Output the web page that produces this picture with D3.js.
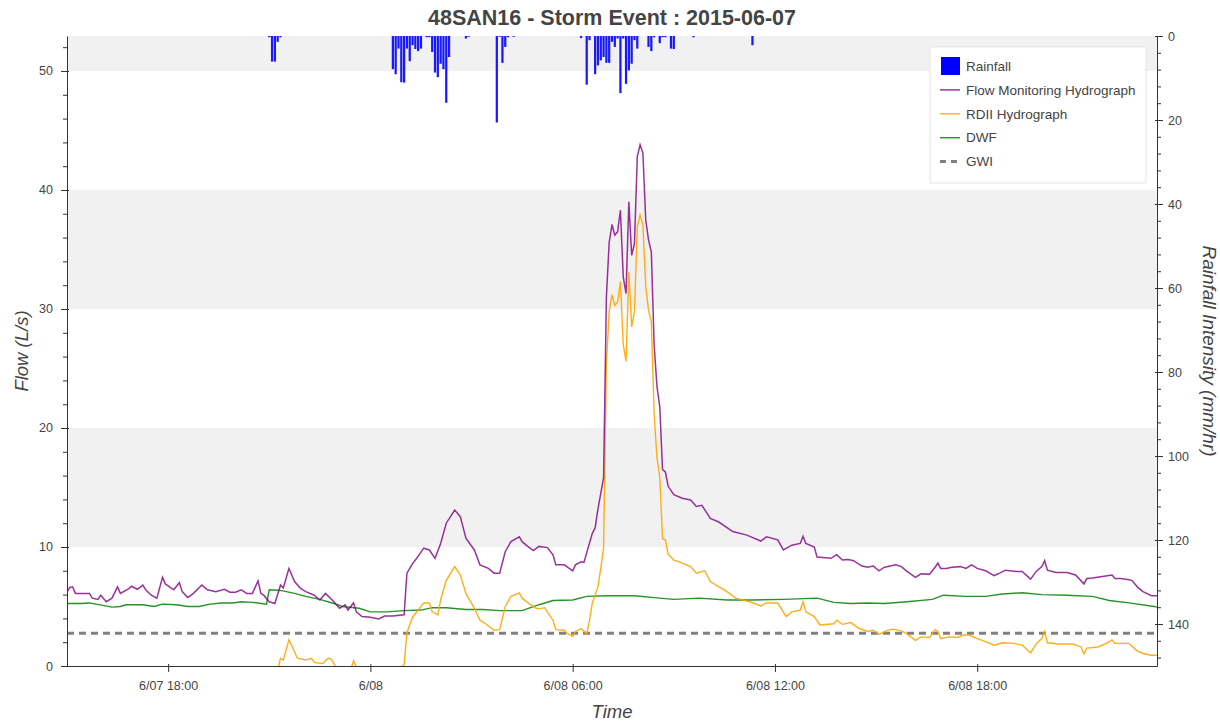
<!DOCTYPE html>
<html>
<head>
<meta charset="utf-8">
<script src="https://cdn.jsdelivr.net/npm/d3@7"></script>
<style>
  body { margin: 0; background: #fff; }
  svg { font-family: "Liberation Sans", Arial, Helvetica, sans-serif; }
</style>
</head>
<body>
<script>
// Values. Times are "DD HH:MM" in June 2015.
const timeRange = ["07 15:00", "08 23:20"];
const timeTicks = ["07 18:00", "08 00:00", "08 06:00", "08 12:00", "08 18:00"];
const timeTickLabels = ["6/07 18:00", "6/08", "6/08 06:00", "6/08 12:00", "6/08 18:00"];
const flowTicks = [0, 10, 20, 30, 40, 50];
const rainTicks = [0, 20, 40, 60, 80, 100, 120, 140];
const legendLabels = ["Rainfall", "Flow Monitoring Hydrograph", "RDII Hydrograph", "DWF", "GWI"];
const gwiLevel = 2.75;

// rainfall intensity, mm/hr (5 minute bars)
const rainfall = [
  ["07 21:00", 0.3], ["07 21:05", 6.1], ["07 21:10", 6.1], ["07 21:15", 1.4], ["07 21:20", 0.3],
  ["08 00:40", 7.9], ["08 00:45", 9.1], ["08 00:50", 3.0], ["08 00:55", 11.0], ["08 01:00", 11.1],
  ["08 01:05", 3.0], ["08 01:10", 6.0], ["08 01:15", 2.2], ["08 01:20", 3.1], ["08 01:25", 3.6],
  ["08 01:30", 3.0], ["08 01:40", 0.3], ["08 01:45", 0.3], ["08 01:50", 3.8], ["08 01:55", 8.7],
  ["08 02:00", 9.8], ["08 02:05", 6.6], ["08 02:10", 7.9], ["08 02:15", 15.9], ["08 02:20", 5.0],
  ["08 02:50", 0.6], ["08 02:55", 0.2], ["08 03:45", 20.6], ["08 03:50", 0.2], ["08 03:55", 6.4],
  ["08 04:00", 2.6], ["08 04:05", 0.3], ["08 04:15", 0.2],
  ["08 06:15", 0.5], ["08 06:25", 11.6], ["08 06:30", 1.0], ["08 06:40", 9.1], ["08 06:45", 7.0],
  ["08 06:50", 5.8], ["08 06:55", 5.0], ["08 07:00", 6.4], ["08 07:05", 6.4], ["08 07:10", 1.4],
  ["08 07:15", 2.6], ["08 07:20", 0.6], ["08 07:25", 13.6], ["08 07:30", 0.6], ["08 07:35", 11.4],
  ["08 07:40", 8.2], ["08 07:45", 6.6], ["08 07:50", 1.0], ["08 07:55", 3.0], ["08 08:15", 2.6],
  ["08 08:20", 3.6], ["08 08:25", 0.3], ["08 08:35", 1.7], ["08 08:40", 0.3], ["08 08:45", 0.3],
  ["08 08:55", 3.0], ["08 09:00", 3.1], ["08 09:35", 0.3], ["08 11:20", 2.2]
];

// observed flow, L/s
const flowMonitoring = [
  ["07 15:00", 6.2], ["07 15:05", 6.6], ["07 15:10", 6.65], ["07 15:15", 6.1], ["07 15:40", 6.1],
  ["07 15:45", 5.7], ["07 15:55", 5.6], ["07 16:00", 5.95], ["07 16:10", 5.4], ["07 16:20", 5.7],
  ["07 16:30", 6.65], ["07 16:35", 6.1], ["07 16:50", 6.5], ["07 16:55", 6.7], ["07 17:05", 6.45],
  ["07 17:15", 6.8], ["07 17:20", 6.4], ["07 17:30", 5.95], ["07 17:40", 5.7], ["07 17:50", 7.45],
  ["07 17:55", 6.9], ["07 18:10", 6.4], ["07 18:20", 7.0], ["07 18:25", 6.25], ["07 18:35", 5.75],
  ["07 18:45", 6.1], ["07 19:00", 6.8], ["07 19:10", 6.4], ["07 19:25", 6.25], ["07 19:40", 6.45],
  ["07 19:50", 6.2], ["07 20:00", 6.2], ["07 20:10", 6.4], ["07 20:20", 6.1], ["07 20:30", 6.1],
  ["07 20:40", 7.15], ["07 20:45", 6.1], ["07 20:50", 5.95], ["07 21:00", 5.4], ["07 21:10", 5.25],
  ["07 21:20", 6.8], ["07 21:25", 6.55], ["07 21:35", 8.2], ["07 21:45", 7.1], ["07 21:55", 6.55],
  ["07 22:05", 6.25], ["07 22:20", 5.95], ["07 22:30", 5.55], ["07 22:40", 6.1], ["07 22:55", 5.4],
  ["07 23:05", 4.85], ["07 23:15", 5.15], ["07 23:20", 4.7], ["07 23:30", 5.3], ["07 23:35", 4.55],
  ["07 23:45", 4.15], ["08 00:00", 4.1], ["08 00:15", 3.95], ["08 00:25", 4.2], ["08 00:40", 4.2],
  ["08 01:00", 4.3], ["08 01:05", 7.8], ["08 01:15", 8.6], ["08 01:20", 8.9], ["08 01:35", 9.9],
  ["08 01:45", 9.75], ["08 01:55", 9.05], ["08 02:05", 10.3], ["08 02:15", 12.0], ["08 02:30", 13.1],
  ["08 02:40", 12.55], ["08 02:50", 10.75], ["08 03:05", 9.75], ["08 03:15", 8.5], ["08 03:30", 8.2],
  ["08 03:40", 7.8], ["08 03:50", 7.8], ["08 04:00", 9.6], ["08 04:10", 10.45], ["08 04:25", 10.85],
  ["08 04:30", 10.45], ["08 04:40", 10.05], ["08 04:50", 9.7], ["08 05:00", 10.05], ["08 05:15", 9.95],
  ["08 05:25", 9.35], ["08 05:30", 8.5], ["08 05:45", 8.5], ["08 06:00", 8.0], ["08 06:05", 8.5],
  ["08 06:15", 8.75], ["08 06:20", 8.7], ["08 06:35", 11.15], ["08 06:40", 11.6], ["08 06:45", 13.2],
  ["08 06:50", 14.5], ["08 06:55", 15.8], ["08 07:00", 31.0], ["08 07:05", 35.6], ["08 07:10", 37.1],
  ["08 07:15", 36.2], ["08 07:20", 36.5], ["08 07:25", 38.3], ["08 07:30", 32.7], ["08 07:35", 31.3],
  ["08 07:40", 39.0], ["08 07:45", 34.5], ["08 07:50", 35.5], ["08 07:55", 42.8], ["08 08:00", 43.8],
  ["08 08:05", 43.1], ["08 08:10", 37.5], ["08 08:15", 35.8], ["08 08:20", 34.8], ["08 08:25", 27.0],
  ["08 08:30", 23.5], ["08 08:35", 21.8], ["08 08:40", 16.5], ["08 08:45", 16.3], ["08 08:50", 15.1],
  ["08 09:00", 14.4], ["08 09:15", 14.1], ["08 09:30", 13.95], ["08 09:40", 13.4], ["08 09:50", 13.5],
  ["08 10:05", 12.4], ["08 10:20", 12.1], ["08 10:45", 11.3], ["08 11:10", 11.0], ["08 11:35", 10.5],
  ["08 11:45", 10.85], ["08 12:05", 10.6], ["08 12:15", 9.75], ["08 12:30", 10.15], ["08 12:45", 10.3],
  ["08 12:50", 10.9], ["08 12:55", 10.3], ["08 13:10", 10.0], ["08 13:15", 9.15], ["08 13:40", 9.05],
  ["08 13:50", 9.35], ["08 14:00", 8.9], ["08 14:10", 8.95], ["08 14:20", 8.85], ["08 14:35", 8.4],
  ["08 14:45", 8.3], ["08 14:55", 8.4], ["08 15:05", 8.0], ["08 15:15", 8.3], ["08 15:35", 8.5],
  ["08 15:45", 8.35], ["08 15:55", 7.95], ["08 16:10", 7.45], ["08 16:20", 7.75], ["08 16:35", 7.7],
  ["08 16:45", 8.3], ["08 16:50", 8.65], ["08 16:55", 8.2], ["08 17:05", 8.2], ["08 17:15", 8.3],
  ["08 17:30", 8.35], ["08 17:40", 8.2], ["08 17:50", 8.5], ["08 18:00", 8.2], ["08 18:15", 8.0],
  ["08 18:30", 7.6], ["08 18:40", 7.8], ["08 18:50", 8.05], ["08 19:10", 7.95], ["08 19:20", 7.95],
  ["08 19:35", 7.3], ["08 19:45", 7.95], ["08 19:55", 8.35], ["08 20:00", 8.85], ["08 20:05", 8.05],
  ["08 20:20", 7.85], ["08 20:40", 7.85], ["08 20:55", 7.65], ["08 21:10", 6.9], ["08 21:15", 7.35],
  ["08 21:25", 7.4], ["08 21:40", 7.5], ["08 22:00", 7.65], ["08 22:05", 7.35], ["08 22:15", 7.35],
  ["08 22:30", 7.25], ["08 22:35", 7.2], ["08 22:45", 6.65], ["08 22:55", 6.25], ["08 23:10", 5.9],
  ["08 23:20", 5.9]
];

// rainfall derived inflow/infiltration, L/s (goes below zero at times, clipped by the frame)
const rdii = [
  ["07 21:10", -1.1], ["07 21:15", -0.3], ["07 21:20", 0.65], ["07 21:25", 0.5], ["07 21:35", 2.2],
  ["07 21:45", 1.2], ["07 21:50", 0.65], ["07 22:05", 0.5], ["07 22:15", 0.65], ["07 22:20", 0.3],
  ["07 22:35", 0.2], ["07 22:45", 0.65], ["07 22:50", 0.6], ["07 23:00", -0.2], ["07 23:25", -0.3],
  ["07 23:30", 0.45], ["07 23:35", -0.1], ["07 23:45", -0.5], ["08 00:00", -0.5], ["08 00:15", -0.65],
  ["08 00:40", -0.45], ["08 01:00", 0.1], ["08 01:05", 2.8], ["08 01:15", 4.1], ["08 01:25", 4.7],
  ["08 01:35", 5.3], ["08 01:45", 5.3], ["08 01:50", 4.55], ["08 02:00", 4.3], ["08 02:05", 5.55],
  ["08 02:15", 7.2], ["08 02:30", 8.35], ["08 02:40", 7.65], ["08 02:50", 6.1], ["08 03:05", 4.85],
  ["08 03:15", 3.85], ["08 03:25", 3.55], ["08 03:40", 3.0], ["08 03:50", 3.05], ["08 04:00", 5.0],
  ["08 04:10", 5.85], ["08 04:25", 6.15], ["08 04:30", 5.7], ["08 04:45", 5.15], ["08 04:55", 4.85],
  ["08 05:00", 4.8], ["08 05:10", 4.9], ["08 05:25", 3.85], ["08 05:30", 3.05], ["08 05:45", 3.0],
  ["08 05:50", 2.75], ["08 06:00", 2.5], ["08 06:05", 2.9], ["08 06:15", 3.15], ["08 06:25", 2.7],
  ["08 06:30", 3.85], ["08 06:35", 5.3], ["08 06:45", 6.65], ["08 06:50", 8.2], ["08 06:55", 9.9],
  ["08 07:00", 25.4], ["08 07:05", 29.8], ["08 07:10", 31.2], ["08 07:15", 30.3], ["08 07:20", 30.6],
  ["08 07:25", 32.3], ["08 07:30", 27.0], ["08 07:35", 25.6], ["08 07:40", 33.1], ["08 07:45", 28.5],
  ["08 07:50", 29.8], ["08 07:55", 36.9], ["08 08:00", 37.9], ["08 08:05", 37.1], ["08 08:10", 31.9],
  ["08 08:15", 29.9], ["08 08:20", 28.9], ["08 08:25", 21.2], ["08 08:30", 17.5], ["08 08:35", 15.9],
  ["08 08:40", 10.7], ["08 08:45", 10.6], ["08 08:50", 9.4], ["08 09:00", 8.9], ["08 09:10", 8.75],
  ["08 09:15", 8.65], ["08 09:30", 8.35], ["08 09:40", 7.8], ["08 09:55", 8.0], ["08 10:05", 7.1],
  ["08 10:20", 6.65], ["08 10:30", 6.4], ["08 10:50", 5.7], ["08 11:15", 5.4], ["08 11:35", 5.05],
  ["08 11:45", 5.3], ["08 12:05", 5.3], ["08 12:20", 4.15], ["08 12:30", 4.55], ["08 12:45", 4.7],
  ["08 12:50", 5.4], ["08 12:55", 4.55], ["08 13:10", 4.15], ["08 13:20", 3.45], ["08 13:45", 3.55],
  ["08 13:50", 3.85], ["08 14:00", 3.5], ["08 14:15", 3.65], ["08 14:30", 3.15], ["08 14:45", 2.9],
  ["08 14:55", 3.0], ["08 15:05", 2.65], ["08 15:20", 3.0], ["08 15:30", 3.1], ["08 15:45", 2.95],
  ["08 15:55", 2.7], ["08 16:10", 2.15], ["08 16:20", 2.45], ["08 16:35", 2.4], ["08 16:45", 3.05],
  ["08 16:50", 2.9], ["08 16:55", 2.3], ["08 17:10", 2.45], ["08 17:25", 2.4], ["08 17:35", 2.6],
  ["08 17:45", 2.6], ["08 18:00", 2.3], ["08 18:15", 2.05], ["08 18:30", 1.75], ["08 18:45", 1.95],
  ["08 19:05", 1.9], ["08 19:20", 1.75], ["08 19:35", 1.1], ["08 19:45", 1.85], ["08 19:55", 2.3],
  ["08 20:00", 2.9], ["08 20:05", 1.95], ["08 20:25", 1.85], ["08 20:50", 1.85], ["08 21:05", 1.6],
  ["08 21:10", 1.0], ["08 21:15", 1.5], ["08 21:35", 1.6], ["08 21:50", 1.9], ["08 22:00", 2.2],
  ["08 22:05", 1.9], ["08 22:30", 1.9], ["08 22:45", 1.25], ["08 22:55", 1.05], ["08 23:10", 0.9],
  ["08 23:20", 0.9]
];

// dry weather flow, L/s
const dwf = [
  ["07 15:00", 5.25], ["07 15:25", 5.25], ["07 15:40", 5.3], ["07 16:20", 4.95], ["07 16:35", 5.0],
  ["07 16:45", 5.15], ["07 17:15", 5.15], ["07 17:35", 5.0], ["07 17:50", 5.2], ["07 18:15", 5.15],
  ["07 18:35", 5.0], ["07 18:55", 5.0], ["07 19:15", 5.2], ["07 19:35", 5.3], ["07 19:55", 5.3],
  ["07 20:10", 5.4], ["07 20:30", 5.35], ["07 20:55", 5.2], ["07 21:00", 6.4], ["07 21:20", 6.35],
  ["07 21:45", 6.1], ["07 22:05", 5.85], ["07 22:30", 5.6], ["07 22:55", 5.25], ["07 23:10", 5.0],
  ["07 23:40", 4.85], ["08 00:00", 4.55], ["08 00:30", 4.55], ["08 01:00", 4.65], ["08 01:30", 4.7],
  ["08 01:50", 4.9], ["08 02:15", 4.9], ["08 02:50", 4.75], ["08 03:20", 4.75], ["08 03:50", 4.65],
  ["08 04:30", 4.65], ["08 05:00", 5.15], ["08 05:25", 5.5], ["08 06:00", 5.55], ["08 06:25", 5.85],
  ["08 07:00", 5.9], ["08 07:50", 5.9], ["08 08:25", 5.75], ["08 09:00", 5.6], ["08 09:45", 5.7],
  ["08 10:35", 5.55], ["08 11:20", 5.55], ["08 12:15", 5.6], ["08 13:15", 5.7], ["08 13:45", 5.35],
  ["08 14:15", 5.25], ["08 14:45", 5.3], ["08 15:15", 5.25], ["08 15:55", 5.4], ["08 16:40", 5.6],
  ["08 17:00", 5.95], ["08 17:40", 5.85], ["08 18:15", 5.85], ["08 18:45", 6.05], ["08 19:20", 6.15],
  ["08 19:55", 6.0], ["08 20:40", 5.95], ["08 21:25", 5.85], ["08 21:55", 5.5], ["08 22:30", 5.3],
  ["08 23:15", 5.0], ["08 23:20", 4.95]
];

const parseTime = s => d3.timeParse("%Y-%m-%d %H:%M")("2015-06-" + s);

// frame of the plot inside the 1220x723 canvas
const margin = { top: 36, right: 63, bottom: 57, left: 67 },
      width = 1220 - margin.left - margin.right,
      height = 723 - margin.top - margin.bottom;

const svg = d3.select("body").append("svg")
    .attr("width", 1220)
    .attr("height", 723);

const g = svg.append("g")
    .attr("transform", "translate(" + margin.left + "," + margin.top + ")");

// scales
const x = d3.scaleTime()
    .domain(timeRange.map(parseTime))
    .range([0, width]);

const y = d3.scaleLinear()
    .domain([0, 52.94])
    .range([height, 0]);

const yRain = d3.scaleLinear()
    .domain([0, 150])
    .range([0, height]);

// alternating grey bands on the flow grid
const bandStarts = flowTicks.filter((d, i) => i % 2 === 1);
g.selectAll(".band")
    .data(bandStarts)
    .enter().append("rect")
    .attr("class", "band")
    .attr("x", 0)
    .attr("width", width)
    .attr("y", d => y(Math.min(d + 10, y.domain()[1])))
    .attr("height", d => y(d) - y(Math.min(d + 10, y.domain()[1])))
    .style("fill", "#f1f1f1");

g.append("clipPath")
    .attr("id", "frame")
    .append("rect")
    .attr("width", width)
    .attr("height", height);

const plot = g.append("g").attr("clip-path", "url(#frame)");

// rainfall bars hang from the top
const barWidth = x(parseTime("08 00:04")) - x(parseTime("08 00:00"));
plot.selectAll(".rain")
    .data(rainfall)
    .enter().append("rect")
    .attr("class", "rain")
    .attr("x", d => x(parseTime(d[0])) - barWidth / 2)
    .attr("width", barWidth)
    .attr("y", yRain(0))
    .attr("height", d => yRain(d[1]) - yRain(0))
    .style("fill", "#0000ff")
    .style("opacity", 0.9);

const line = d3.line()
    .x(d => x(parseTime(d[0])))
    .y(d => y(d[1]));

// GWI
plot.append("path")
    .datum(timeRange.map(t => [t, gwiLevel]))
    .attr("d", line)
    .style("fill", "none")
    .style("stroke", "#808080")
    .style("stroke-width", 3)
    .style("stroke-dasharray", "7,5");

plot.append("path")
    .datum(dwf)
    .attr("d", line)
    .style("fill", "none")
    .style("stroke", "#008000")
    .style("stroke-opacity", 0.85)
    .style("stroke-width", 1.4);

plot.append("path")
    .datum(rdii)
    .attr("d", line)
    .style("fill", "none")
    .style("stroke", "#ffa500")
    .style("stroke-opacity", 0.9)
    .style("stroke-width", 1.4);

plot.append("path")
    .datum(flowMonitoring)
    .attr("d", line)
    .style("fill", "none")
    .style("stroke", "#800080")
    .style("stroke-opacity", 0.8)
    .style("stroke-width", 1.5);

// axes
const axisColor = "#333";
const labelColor = "#444";

function styleAxis(sel, fontSize) {
    sel.select(".domain").style("stroke", axisColor);
    sel.selectAll(".tick line").style("stroke", axisColor);
    sel.selectAll(".tick text")
        .style("fill", labelColor)
        .style("font-size", fontSize)
        .style("font-family", "'Liberation Sans', Arial, sans-serif");
}

// minor ticks first, majors on top
const flowMinor = d3.range(0, 53, 2).filter(v => v % 10 !== 0);
g.append("g")
    .call(d3.axisLeft(y).tickValues(flowMinor).tickSize(4).tickFormat(""))
    .call(s => s.select(".domain").remove())
    .selectAll("line").style("stroke", axisColor);

const yAxis = g.append("g")
    .call(d3.axisLeft(y).tickValues(flowTicks).tickSize(6).tickSizeOuter(0).tickPadding(8));
yAxis.selectAll(".tick line").attr("x1", 2);
styleAxis(yAxis, "12.5px");

const rainMinor = d3.range(0, 151, 4).filter(v => v % 20 !== 0);
g.append("g")
    .attr("transform", "translate(" + width + ",0)")
    .call(d3.axisRight(yRain).tickValues(rainMinor).tickSize(4).tickFormat(""))
    .call(s => s.select(".domain").remove())
    .selectAll("line").style("stroke", axisColor);

const yRainAxis = g.append("g")
    .attr("transform", "translate(" + width + ",0)")
    .call(d3.axisRight(yRain).tickValues(rainTicks).tickSize(6).tickSizeOuter(0).tickPadding(5));
yRainAxis.selectAll(".tick line").attr("x1", -2);
styleAxis(yRainAxis, "12.5px");

const xAxis = g.append("g")
    .attr("transform", "translate(0," + height + ")")
    .call(d3.axisBottom(x)
        .tickValues(timeTicks.map(parseTime))
        .tickFormat((d, i) => timeTickLabels[i])
        .tickSize(6).tickSizeOuter(0).tickPadding(9));
xAxis.selectAll(".tick line").attr("y1", -2);
styleAxis(xAxis, "12.5px");

// title and axis labels
svg.append("text")
    .attr("x", margin.left + width / 2)
    .attr("y", 25)
    .style("text-anchor", "middle")
    .style("font-size", "21.5px")
    .style("font-weight", "bold")
    .style("fill", labelColor)
    .text("48SAN16 - Storm Event : 2015-06-07");

svg.append("text")
    .attr("transform", "translate(22," + (margin.top + height / 2) + ") rotate(-90)")
    .attr("dy", "0.35em")
    .style("text-anchor", "middle")
    .style("font-size", "18.5px")
    .style("font-style", "italic")
    .style("fill", labelColor)
    .text("Flow (L/s)");

svg.append("text")
    .attr("transform", "translate(1210," + (margin.top + height / 2) + ") rotate(90)")
    .attr("dy", "0.35em")
    .style("text-anchor", "middle")
    .style("font-size", "19px")
    .style("font-style", "italic")
    .style("fill", labelColor)
    .text("Rainfall Intensity (mm/hr)");

svg.append("text")
    .attr("x", margin.left + width / 2)
    .attr("y", 718)
    .style("text-anchor", "middle")
    .style("font-size", "18.5px")
    .style("font-style", "italic")
    .style("fill", labelColor)
    .text("Time");

// legend
const legend = svg.append("g")
    .attr("transform", "translate(930,47)");

legend.append("rect")
    .attr("width", 216)
    .attr("height", 136)
    .style("fill", "#fff")
    .style("fill-opacity", 0.95)
    .style("stroke", "#e5e5e5");

const legendStyles = [
    { color: "#0000ff", kind: "box" },
    { color: "#800080", kind: "line", opacity: 0.8, w: 1.5 },
    { color: "#ffa500", kind: "line", opacity: 0.9, w: 1.4 },
    { color: "#008000", kind: "line", opacity: 0.85, w: 1.4 },
    { color: "#808080", kind: "dash", opacity: 1, w: 3 }
];

const item = legend.selectAll(".legend-item")
    .data(legendLabels)
    .enter().append("g")
    .attr("class", "legend-item")
    .attr("transform", (d, i) => "translate(10," + (19 + i * 23.9) + ")");

item.each(function(d, i) {
    const s = legendStyles[i];
    const el = d3.select(this);
    if (s.kind === "box") {
        el.append("rect")
            .attr("x", 1).attr("y", -9)
            .attr("width", 19).attr("height", 18)
            .style("fill", s.color);
    } else {
        el.append("line")
            .attr("x1", 0).attr("x2", 20)
            .style("stroke", s.color)
            .style("stroke-opacity", s.opacity)
            .style("stroke-width", s.w)
            .style("stroke-dasharray", s.kind === "dash" ? "6,5" : null);
    }
});

item.append("text")
    .attr("x", 26)
    .attr("dy", "0.35em")
    .style("font-size", "13.5px")
    .style("fill", labelColor)
    .text(d => d);
</script>
</body>
</html>
